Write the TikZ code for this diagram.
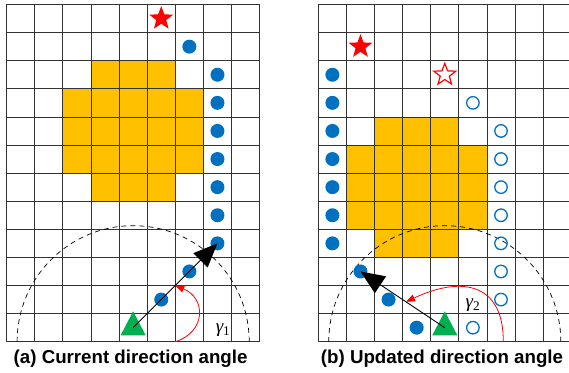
\documentclass[tikz,border=0pt]{standalone}
\usepackage{fontspec}
\usepackage{xcolor}
\usepackage{tikz}
\usetikzlibrary{arrows.meta,calc,shapes.geometric}
\newfontfamily\capfont{Liberation Sans}
\newfontfamily\lblfont{Liberation Serif}
\definecolor{obst}{HTML}{FFC000}
\definecolor{trail}{HTML}{0070C0}
\definecolor{robot}{HTML}{00B050}
\definecolor{goal}{HTML}{FF0000}

\begin{document}
\begin{tikzpicture}[x=28.1pt,y=28.1pt,
  gridline/.style={draw=black!80,line width=0.8pt},
  dot/.style={circle,fill=trail,inner sep=0pt,minimum size=14pt},
  odot/.style={circle,draw=trail,line width=1.3pt,inner sep=0pt,minimum size=12.5pt},
  goalstar/.style={star,star points=5,star point ratio=2.4,inner sep=0pt,minimum size=25pt},
  agent/.style={isosceles triangle,isosceles triangle stretches,shape border rotate=90,fill=robot,inner sep=0pt,minimum width=25pt,minimum height=24pt},
  heading/.style={-{Triangle[length=24pt,width=20pt]},line width=0.9pt},
  turn/.style={-{Triangle[length=9pt,width=7pt]},draw=goal,line width=0.8pt},
  caption/.style={font=\capfont\bfseries\fontsize{18.7}{18.7}\selectfont,anchor=base},
  anglab/.style={font=\lblfont\fontsize{19}{19}\selectfont}]
  \useasboundingbox (-0.238,-1.078) rectangle (20.01,12.16);
  \def\ox{11.09}
  % (a) current direction
  \foreach \r/\a/\b in {9/3/5, 8/2/6, 7/2/6, 6/2/6, 5/3/5}{
    \fill[obst] (\a,\r) rectangle (\b+1,\r+1);
  }
  \foreach \c in {0,...,9}{
    \draw[gridline] (\c,0) -- (\c,12);
  }
  \foreach \r in {0,...,12}{
    \draw[gridline] (0,\r) -- (9,\r);
  }
  \draw[dash pattern=on 5pt off 4pt, line width=0.7pt] (8.63,0) arc (0:180:4.13);
  \node[goalstar,fill=goal] (goala) at (5.5,11.5) {};
  \node[dot] (a1) at (6.5,10.5) {};
  \foreach \r [count=\i from 2] in {9,...,3}{
    \node[dot] (a\i) at (7.5,\r+0.5) {};
  }
  \node[dot] (a9) at (6.5,2.5) {};
  \node[dot] (a10) at (5.5,1.5) {};
  \node[agent] (robota) at (4.5,0.5) {};
  \draw[heading] (robota.center) -- (a8.center);
  \coordinate (turna) at (6,0);
  \draw[turn] (turna) .. controls (7.1,0.35) and (7.1,1.55) .. ($(robota.center)!0.5!(a8.center)$);
  \node[anglab] (gama) at (7.7,0.42) {\itshape γ\upshape\textsubscript{1}};
  \node[caption] (capa) at (4.41,-0.79) {(a) Current direction angle};
  % (b) updated direction
  \foreach \r/\a/\b in {7/2/4, 6/1/5, 5/1/5, 4/1/5, 3/2/4}{
    \fill[obst] (\ox+\a,\r) rectangle (\ox+\b+1,\r+1);
  }
  \foreach \c in {0,...,8}{
    \draw[gridline] (\ox+\c,0) -- (\ox+\c,12);
  }
  \foreach \r in {0,...,12}{
    \draw[gridline] (\ox,\r) -- (20.01,\r);
  }
  \draw[dash pattern=on 5pt off 4pt, line width=0.7pt] (\ox+8.63,0) arc (0:180:4.13);
  \node[goalstar,fill=goal] (goalb) at (\ox+1.5,10.5) {};
  \node[goalstar,draw=goal,line width=1.2pt,minimum size=23pt] (newgoal) at (\ox+4.5,9.5) {};
  \foreach \r [count=\i from 1] in {9,...,3}{
    \node[dot] (b\i) at (\ox+0.5,\r+0.5) {};
  }
  \node[dot] (b8) at (\ox+1.5,2.5) {};
  \node[dot] (b9) at (\ox+2.5,1.5) {};
  \node[dot] (b10) at (\ox+3.5,0.5) {};
  \node[odot] (c1) at (\ox+5.5,8.5) {};
  \foreach \r [count=\i from 2] in {7,...,1}{
    \node[odot] (c\i) at (\ox+6.5,\r+0.5) {};
  }
  \node[odot] (c9) at (\ox+5.5,0.5) {};
  \node[agent] (robotb) at (\ox+4.5,0.5) {};
  \draw[heading] (robotb.center) -- (b8.center);
  \coordinate (turnb) at (\ox+6.58,0);
  \draw[turn] (turnb) .. controls (\ox+6.6,2.0) and (\ox+5.2,2.4) .. ($(robotb.center)!0.46!(b8.center)$);
  \node[anglab] (gamb) at (\ox+5.5,1.31) {\itshape γ\upshape\textsubscript{2}};
  \node[caption] (capb) at (15.49,-0.79) {(b) Updated direction angle};
\end{tikzpicture}
\end{document}
